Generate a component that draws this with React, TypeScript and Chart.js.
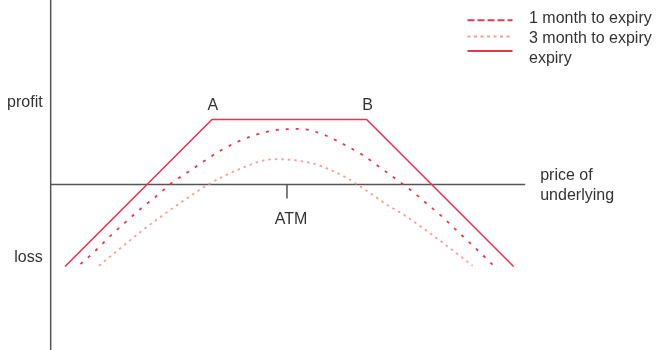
import React, { useEffect, useRef } from "react";
import { Chart, registerables } from "chart.js";

Chart.register(...registerables);

// ---- data (price of underlying vs profit/loss) ----
const strikeA = 90;
const strikeB = 110;
const atmPrice = 99.7;

const expiryX = [71, 90, 110, 129];
const expiryPL = [-10.6, 8.4, 8.4, -10.6];

const oneMonthX = [73.0, 75.0, 76.8, 78.8, 80.7, 82.7, 84.8, 86.9, 89.1, 91.3, 93.5, 95.9, 98.4, 99.7, 101.2, 102.5, 104.8, 107.2, 109.5, 111.6, 113.8, 115.8, 117.8, 119.8, 121.7, 123.6, 125.4, 126.4];
const oneMonthPL = [-10.3, -8.5, -6.7, -4.9, -3.2, -1.6, 0.2, 1.6, 3.1, 4.5, 5.6, 6.5, 7.05, 7.15, 7.2, 7.05, 6.3, 5.1, 3.8, 2.3, 0.7, -0.8, -2.5, -4.2, -6.0, -7.8, -9.5, -10.5];

const threeMonthX = [75.4, 78.1, 80.8, 83.6, 86.9, 89.5, 92.0, 94.3, 96.6, 98.4, 100.1, 102.9, 105.3, 107.5, 109.7, 112.6, 114.7, 117.5, 120.4, 123.7];
const threeMonthPL = [-10.5, -8.3, -6.1, -4.0, -1.7, 0.0, 1.3, 2.3, 3.1, 3.27, 3.2, 2.75, 1.9, 0.8, -0.6, -2.6, -3.85, -5.8, -7.95, -10.5];

const seriesLabels = ["1 month to expiry", "3 month to expiry", "expiry"];
const profitLabel = "profit";
const lossLabel = "loss";
const priceLabelLines = ["price of", "underlying"];
const atmLabel = "ATM";
const strikeLabels = ["A", "B"];

const priceAxisRange = [69.15, 130.5];
const profitLevel = 10;
const lossLevel = -10;

// ---- styles ----
const RED = "#e9364f";
const PINK = "#f5a09b";
const AXIS = "#555555";
const TEXT = "#333333";
const FONT = "16px 'Liberation Sans', Arial, sans-serif";

const toPoints = (xs: number[], ys: number[]) => xs.map((x, i) => ({ x, y: ys[i] }));

const diagramPlugin = {
  id: "diagram",
  beforeDatasetsDraw(chart: any) {
    const { ctx, chartArea } = chart;
    const xs = chart.scales.x;
    const ys = chart.scales.y;
    const y0 = ys.getPixelForValue(0);
    const xLeft = xs.getPixelForValue(priceAxisRange[0]);
    const xRight = xs.getPixelForValue(priceAxisRange[1]);
    ctx.save();
    ctx.strokeStyle = AXIS;
    ctx.lineWidth = 1.5;
    ctx.beginPath();
    ctx.moveTo(xLeft, chartArea.top);
    ctx.lineTo(xLeft, chartArea.bottom);
    ctx.moveTo(xLeft, y0);
    ctx.lineTo(xRight, y0);
    const atmPx = xs.getPixelForValue(atmPrice);
    ctx.moveTo(atmPx, y0);
    ctx.lineTo(atmPx, y0 + 14);
    ctx.stroke();
    ctx.restore();
  },
  afterDraw(chart: any) {
    const { ctx } = chart;
    const xs = chart.scales.x;
    const ys = chart.scales.y;
    const y0 = ys.getPixelForValue(0);
    const xLeft = xs.getPixelForValue(priceAxisRange[0]);
    const xRight = xs.getPixelForValue(priceAxisRange[1]);
    ctx.save();
    ctx.font = FONT;
    ctx.fillStyle = TEXT;
    ctx.textBaseline = "alphabetic";

    ctx.textAlign = "right";
    ctx.fillText(profitLabel, xLeft - 8, ys.getPixelForValue(profitLevel));
    ctx.fillText(lossLabel, xLeft - 8, ys.getPixelForValue(lossLevel));

    ctx.textAlign = "center";
    const plateau = ys.getPixelForValue(expiryPL[1]);
    ctx.fillText(strikeLabels[0], xs.getPixelForValue(strikeA) + 1, plateau - 10);
    ctx.fillText(strikeLabels[1], xs.getPixelForValue(strikeB) + 1, plateau - 10);
    ctx.fillText(atmLabel, xs.getPixelForValue(atmPrice) + 4, y0 + 39);

    ctx.textAlign = "left";
    ctx.fillText(priceLabelLines[0], xRight + 15, y0 - 4.5);
    ctx.fillText(priceLabelLines[1], xRight + 15, y0 + 15.5);

    // legend
    const sampleY = [20.3, 36.5, 51];
    const legendDash = [[7, 3], [3, 3.5], []];
    const textY = [23.3, 43.3, 63.3];
    chart.data.datasets.forEach((ds: any, i: number) => {
      ctx.save();
      ctx.strokeStyle = ds.borderColor;
      ctx.lineWidth = 2;
      ctx.setLineDash(legendDash[i]);
      ctx.beginPath();
      ctx.moveTo(467.5, sampleY[i]);
      ctx.lineTo(512.5, sampleY[i]);
      ctx.stroke();
      ctx.restore();
      ctx.fillText(ds.label, 529, textY[i]);
    });
    ctx.restore();
  },
};

export default function App() {
  const ref = useRef<HTMLCanvasElement | null>(null);
  useEffect(() => {
    if (!ref.current) return;
    const pxPerUnit = 7.735;
    const centerPx = 289.3;
    const zeroPx = 184.5;
    const W = 657;
    const H = 350;
    const chart = new Chart(ref.current, {
      type: "line",
      data: {
        datasets: [
          {
            label: seriesLabels[0],
            data: toPoints(oneMonthX, oneMonthPL),
            borderColor: RED,
            borderWidth: 1.8,
            borderDash: [3, 7],
            cubicInterpolationMode: "monotone",
            pointRadius: 0,
            fill: false,
          },
          {
            label: seriesLabels[1],
            data: toPoints(threeMonthX, threeMonthPL),
            borderColor: PINK,
            borderWidth: 1.8,
            borderDash: [2.5, 4],
            cubicInterpolationMode: "monotone",
            pointRadius: 0,
            fill: false,
          },
          {
            label: seriesLabels[2],
            data: toPoints(expiryX, expiryPL),
            borderColor: RED,
            borderWidth: 1.6,
            tension: 0,
            pointRadius: 0,
            fill: false,
          },
        ],
      },
      options: {
        responsive: false,
        devicePixelRatio: 1,
        animation: false,
        events: [],
        layout: { padding: 0 },
        plugins: {
          legend: { display: false },
          tooltip: { enabled: false },
        },
        scales: {
          x: {
            type: "linear",
            display: false,
            min: 100 - centerPx / pxPerUnit,
            max: 100 + (W - centerPx) / pxPerUnit,
          },
          y: {
            type: "linear",
            display: false,
            min: -(H - zeroPx) / pxPerUnit,
            max: zeroPx / pxPerUnit,
          },
        },
      },
      plugins: [diagramPlugin],
    } as any);
    return () => chart.destroy();
  }, []);

  return (
    <div style={{ position: "absolute", left: 0, top: 0, width: 657, height: 350, background: "#fff" }}>
      <canvas ref={ref} width={657} height={350} style={{ width: 657, height: 350, display: "block" }} />
    </div>
  );
}
